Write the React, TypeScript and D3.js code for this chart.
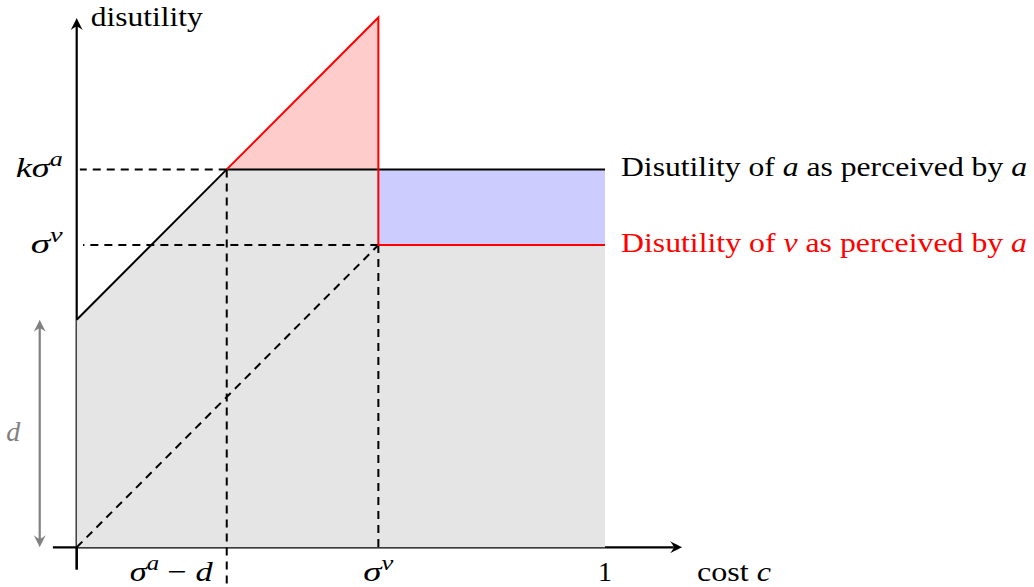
import React from 'react';
import * as d3 from 'd3';

// Values (cost on x, disutility on y, both 0..1)
const dValue = 0.43;
const sigmaV = 0.571;
const kSigmaA = 0.714;
const kinkX = kSigmaA - dValue;

// Disutility of a as perceived by a (black)
const aLineX = [0, kinkX, 1];
const aLineY = [dValue, kSigmaA, kSigmaA];

// Disutility of v as perceived by a (red)
const vLineX = [kinkX, sigmaV, sigmaV, 1];
const vLineY = [kSigmaA, dValue + sigmaV, sigmaV, sigmaV];

const xTickValues = [kinkX, sigmaV, 1];
const yTickValues = [sigmaV, kSigmaA];

type Seg = { t: string; i?: boolean; sup?: boolean };

const xTickLabels: Seg[][] = [
  [{ t: 'σ', i: true }, { t: 'a', i: true, sup: true }, { t: ' − ' }, { t: 'd', i: true }],
  [{ t: 'σ', i: true }, { t: 'v', i: true, sup: true }],
  [{ t: '1' }],
];
const yTickLabels: Seg[][] = [
  [{ t: 'σ', i: true }, { t: 'v', i: true, sup: true }],
  [{ t: 'k', i: true }, { t: 'σ', i: true }, { t: 'a', i: true, sup: true }],
];
const seriesLabels: Seg[][] = [
  [{ t: 'Disutility of ' }, { t: 'a', i: true }, { t: ' as perceived by ' }, { t: 'a', i: true }],
  [{ t: 'Disutility of ' }, { t: 'v', i: true }, { t: ' as perceived by ' }, { t: 'a', i: true }],
];

const W = 1034;
const H = 587;
const FONT = '"Liberation Serif", serif';

const x = d3.scaleLinear().domain([0, 1]).range([76.7, 605]);
const y = d3.scaleLinear().domain([0, 1]).range([547.3, 18]);

const line = d3.line<[number, number]>().x(d => x(d[0])).y(d => y(d[1]));
const pts = (xs: number[], ys: number[]) => xs.map((v, i) => [v, ys[i]] as [number, number]);

// filled arrow tip pointing along +x, rotated into place
function Arrow({ px, py, angle, color }: { px: number; py: number; angle: number; color: string }) {
  return (
    <path
      d="M0,0 Q-4,-1.8 -12,-6 Q-8.5,-1.4 -8.5,0 Q-8.5,1.4 -12,6 Q-4,1.8 0,0 Z"
      fill={color}
      transform={`translate(${px},${py}) rotate(${angle})`}
    />
  );
}

function MathText({ segs, px, py, anchor = 'start', color = '#000', size = 28, len }: {
  segs: Seg[]; px: number; py: number; anchor?: string; color?: string; size?: number; len?: number;
}) {
  const out: React.ReactNode[] = [];
  let raised = false;
  segs.forEach((s, i) => {
    let dy = 0;
    if (s.sup && !raised) { dy = -11; raised = true; }
    else if (!s.sup && raised) { dy = 11; raised = false; }
    out.push(
      <tspan key={i} dy={dy || undefined} fontStyle={s.i ? 'italic' : 'normal'}
        fontSize={s.sup ? size * 0.72 : size}>
        {s.t}
      </tspan>
    );
  });
  return (
    <text x={px} y={py} textAnchor={anchor} fill={color} fontFamily={FONT} fontSize={size}
      style={{ whiteSpace: 'pre' }}
      textLength={len} lengthAdjust={len ? 'spacingAndGlyphs' : undefined}>
      {out}
    </text>
  );
}

export default function App() {
  const dash = '8 6';
  const grayPoly = [[0, 0] as [number, number], ...pts(aLineX, aLineY), [1, 0] as [number, number]];
  const redTri = pts([kinkX, sigmaV, sigmaV], [kSigmaA, dValue + sigmaV, kSigmaA]);

  return (
    <svg width={W} height={H} style={{ position: 'absolute', left: 0, top: 0, background: '#fff' }}>
      {/* axes */}
      <line x1={x(-0.045)} x2={x(1.13)} y1={y(0)} y2={y(0)} stroke="#000" strokeWidth={2.2} />
      <Arrow px={x(1.146)} py={y(0)} angle={0} color="#000" />
      <line x1={x(0)} x2={x(0)} y1={y(-0.042)} y2={y(0.985)} stroke="#000" strokeWidth={2.2} />
      <Arrow px={x(0)} py={y(1.0)} angle={-90} color="#000" />

      {/* fills */}
      <path d={line(grayPoly) + 'Z'} fill="#e5e5e5" />
      <rect x={x(sigmaV)} y={y(kSigmaA)} width={x(1) - x(sigmaV)} height={y(sigmaV) - y(kSigmaA)} fill="#ccccff" />
      <path d={line(redTri) + 'Z'} fill="#ffcccc" />

      {/* guide lines */}
      <g stroke="#000" strokeWidth={2} strokeDasharray={dash} fill="none">
        <line x1={x(kinkX)} x2={x(0.006)} y1={y(kSigmaA)} y2={y(kSigmaA)} />
        <line x1={x(sigmaV)} x2={x(0.012)} y1={y(sigmaV)} y2={y(sigmaV)} />
        <line x1={x(kinkX)} x2={x(kinkX)} y1={y(kSigmaA)} y2={y(-0.08)} />
        <line x1={x(sigmaV)} x2={x(sigmaV)} y1={y(sigmaV)} y2={y(0)} />
        <line x1={x(0)} x2={x(sigmaV)} y1={y(0)} y2={y(sigmaV)} />
      </g>
      <line x1={x(0)} x2={x(0)} y1={y(0)} y2={y(-0.042)} stroke="#000" strokeWidth={2.2} />

      {/* series */}
      <path d={line(pts(aLineX, aLineY)) || ''} fill="none" stroke="#000" strokeWidth={2} />
      <path d={line(pts(vLineX, vLineY)) || ''} fill="none" stroke="#ff0000" strokeWidth={2} />

      {/* d bracket */}
      <line x1={x(-0.07)} x2={x(-0.07)} y1={y(0) - 8} y2={y(dValue) + 8} stroke="#808080" strokeWidth={2.2} />
      <Arrow px={x(-0.07)} py={y(0)} angle={90} color="#808080" />
      <Arrow px={x(-0.07)} py={y(dValue)} angle={-90} color="#808080" />
      <MathText segs={[{ t: 'd', i: true }]} px={x(-0.12)} py={y(dValue / 2) + 7} anchor="middle" color="#808080" />

      {/* tick labels */}
      <MathText segs={xTickLabels[0]} px={x(xTickValues[0]) - 14} py={581} anchor="end" len={83} />
      <MathText segs={xTickLabels[1]} px={x(xTickValues[1])} py={581} anchor="middle" len={30} />
      <MathText segs={xTickLabels[2]} px={x(xTickValues[2])} py={581} anchor="middle" />
      <MathText segs={yTickLabels[0]} px={x(0) - 14} py={y(yTickValues[0]) + 8} anchor="end" len={32} />
      <MathText segs={yTickLabels[1]} px={x(0) - 14} py={y(yTickValues[1]) + 8} anchor="end" len={47} />

      {/* axis titles */}
      <MathText segs={[{ t: 'disutility' }]} px={x(0) + 14} py={26} len={112} />
      <MathText segs={[{ t: 'cost ' }, { t: 'c', i: true }]} px={697} py={581} len={74} />

      {/* series labels */}
      <MathText segs={seriesLabels[0]} px={x(1) + 16} py={y(kSigmaA) + 7} len={406} />
      <MathText segs={seriesLabels[1]} px={x(1) + 16} py={y(sigmaV) + 7} color="#ff0000" len={406} />
    </svg>
  );
}
